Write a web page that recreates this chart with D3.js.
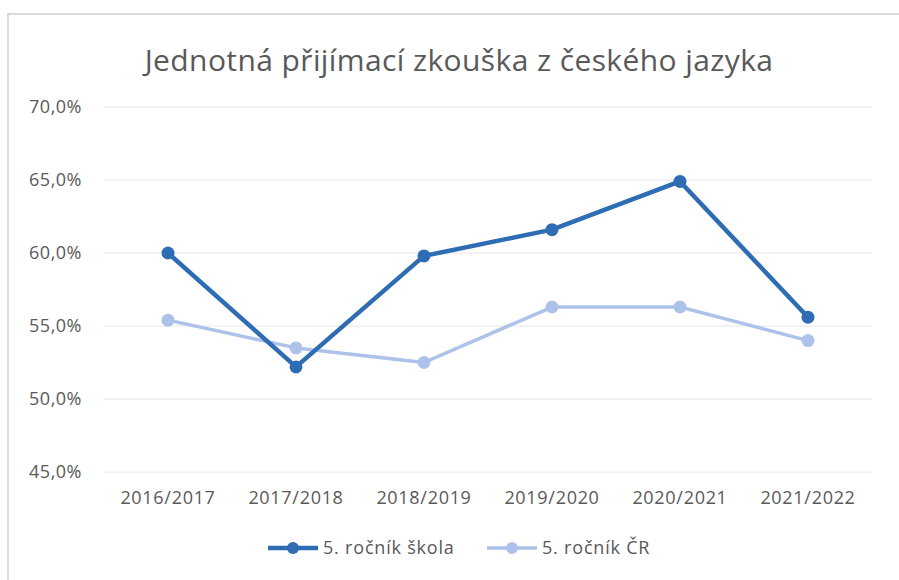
<!DOCTYPE html>
<html>
<head>
<meta charset="utf-8">
<script src="https://cdn.jsdelivr.net/npm/d3@7/dist/d3.min.js"></script>
<style>
  body { margin: 0; background: #fff; }
  text { font-family: "Open Sans", "Noto Sans", sans-serif; fill: #595959; }
</style>
</head>
<body>
<div id="chart"></div>
<script>
// data
var years = ["2016/2017", "2017/2018", "2018/2019", "2019/2020", "2020/2021", "2021/2022"];
var skola = [60.0, 52.2, 59.8, 61.6, 64.9, 55.6];
var cr = [55.4, 53.5, 52.5, 56.3, 56.3, 54.0];
var yTicks = [45, 50, 55, 60, 65, 70];
var seriesNames = ["5. ročník škola", "5. ročník ČR"];

var width = 899, height = 580;
var m = {top: 107, right: 27, bottom: 108, left: 104};

var svg = d3.select("#chart").append("svg")
    .attr("width", width)
    .attr("height", height);

// frame of the chart area
svg.append("path")
    .attr("d", "M8,580 L8,14 L899,14")
    .attr("fill", "none")
    .attr("stroke", "#d0d0d0")
    .attr("stroke-width", 1.5);

svg.append("text")
    .attr("x", 459)
    .attr("y", 71)
    .attr("text-anchor", "middle")
    .style("font-size", "30px")
    .style("letter-spacing", "0.4px")
    .text("Jednotná přijímací zkouška z českého jazyka");

var x = d3.scalePoint()
    .domain(years)
    .range([m.left, width - m.right])
    .padding(0.5);

var y = d3.scaleLinear()
    .domain([45, 70])
    .range([height - m.bottom, m.top]);

var g = svg.append("g");

// gridlines
g.selectAll(".grid")
    .data(yTicks)
    .enter().append("line")
    .attr("x1", m.left)
    .attr("x2", width - m.right)
    .attr("y1", function (d) { return y(d); })
    .attr("y2", function (d) { return y(d); })
    .attr("stroke", "#e6e6e6")
    .attr("stroke-width", 1);

// y labels
var fmt = function (d) { return d.toFixed(1).replace(".", ",") + "%"; };
g.selectAll(".ylab")
    .data(yTicks)
    .enter().append("text")
    .attr("x", 82)
    .attr("y", function (d) { return y(d); })
    .attr("dy", "0.35em")
    .attr("text-anchor", "end")
    .style("font-size", "18px")
    .style("letter-spacing", "0.5px")
    .text(fmt);

// x labels
g.selectAll(".xlab")
    .data(years)
    .enter().append("text")
    .attr("x", function (d) { return x(d); })
    .attr("y", 504)
    .attr("text-anchor", "middle")
    .style("font-size", "18px")
    .style("letter-spacing", "0.7px")
    .text(function (d) { return d; });

var series = [
    {name: seriesNames[0], values: skola, color: "#2e6db4", width: 4.5, r: 6.5},
    {name: seriesNames[1], values: cr, color: "#adc2ea", width: 3.5, r: 6.5}
];

var line = d3.line()
    .x(function (d, i) { return x(years[i]); })
    .y(function (d) { return y(d); });

// draw light series first so the dark one sits on top
series.slice().reverse().forEach(function (s) {
    g.append("path")
        .datum(s.values)
        .attr("fill", "none")
        .attr("stroke", s.color)
        .attr("stroke-width", s.width)
        .attr("stroke-linejoin", "round")
        .attr("d", line);
    g.selectAll(null)
        .data(s.values)
        .enter().append("circle")
        .attr("cx", function (d, i) { return x(years[i]); })
        .attr("cy", function (d) { return y(d); })
        .attr("r", s.r)
        .attr("fill", s.color);
});

// legend
var legendX = [268, 487];
var leg = svg.selectAll(".legend")
    .data(series)
    .enter().append("g")
    .attr("transform", function (d, i) { return "translate(" + legendX[i] + ",548)"; });

leg.append("line")
    .attr("x1", 0).attr("x2", 50)
    .attr("stroke", function (d) { return d.color; })
    .attr("stroke-width", function (d) { return d.width; });

leg.append("circle")
    .attr("cx", 25)
    .attr("r", 6)
    .attr("fill", function (d) { return d.color; });

leg.append("text")
    .attr("x", 55)
    .attr("dy", "0.35em")
    .style("font-size", "18px")
    .style("letter-spacing", "0.8px")
    .text(function (d) { return d.name; });
</script>
</body>
</html>
